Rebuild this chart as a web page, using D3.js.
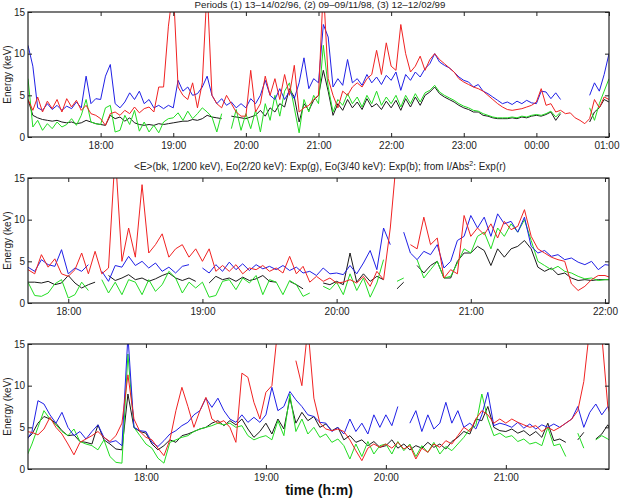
<!DOCTYPE html>
<html><head><meta charset="utf-8">
<script src="https://cdn.jsdelivr.net/npm/d3@7"></script>
<style>body{margin:0;background:#fff} svg{display:block}</style>
</head><body>
<script>
// ---------- DATA ----------
// Panel 1: samples every 4 min from 17:00 (to 01:00)
const p1Start = 17.0, p1Step = 4;
const p1Black = [4.5,2.6,2.3,2.1,2.0,1.9,2.0,1.8,1.7,1.8,1.6,1.7,2.0,1.8,1.6,
 1.5,1.4,2.6,2.2,2.4,1.9,2.3,1.7,1.5,1.4,1.5,1.4,1.6,1.5,1.6,
 1.7,1.8,1.9,1.9,2.1,2.0,2.2,2.6,2.4,2.3,2.2,null,2.5,2.4,2.3,
 2.2,2.4,2.6,3.2,2.5,3.5,3.0,4.0,3.6,5.8,4.8,1.8,4.0,3.2,4.4,
 5.0,8.0,5.5,2.6,4.0,3.2,4.5,3.5,4.2,3.3,4.6,3.6,4.0,3.3,4.3,
 3.5,4.4,3.2,4.6,3.6,4.8,3.8,5.0,5.4,6.0,5.2,4.8,4.5,4.2,3.8,
 3.5,3.3,3.0,3.0,2.6,2.5,2.3,2.2,2.2,2.2,2.3,2.2,2.4,2.3,2.5,
 2.6,2.5,2.7,3.0,2.0,2.8,null,null,null,null,null,1.8,3.0,3.5,4.5,
 4.2];
const p1Green = [7.0,1.2,2.0,0.8,1.6,1.0,1.8,1.2,1.5,2.2,1.4,2.6,4.5,1.8,1.6,
 1.5,3.5,3.8,0.6,0.8,2.6,1.5,3.2,0.7,1.8,0.6,1.4,0.5,1.8,2.2,
 2.3,2.9,2.0,3.1,2.2,2.8,3.5,3.0,2.4,0.6,2.8,null,1.0,3.3,0.8,
 2.8,1.0,3.2,0.6,4.0,2.0,5.0,2.5,5.5,6.5,3.5,0.5,4.5,3.0,5.0,
 4.0,11.0,6.0,3.0,4.5,3.8,5.2,4.0,4.8,3.6,5.0,4.0,5.5,3.8,4.8,
 4.0,5.0,3.6,5.0,4.0,5.2,4.2,5.3,5.6,6.2,5.4,5.0,4.7,4.4,4.0,
 3.7,3.5,3.2,3.1,2.8,2.6,2.4,2.3,2.3,2.3,2.4,2.3,2.5,2.4,2.6,
 2.7,2.6,2.8,3.1,2.4,3.0,null,null,null,null,null,3.5,2.0,4.0,5.5,
 7.0];
const p1Blue = [11.0,8.5,3.5,3.2,4.0,3.3,3.8,3.2,3.7,3.4,4.2,3.5,7.3,4.0,4.6,
 4.5,7.3,8.7,4.0,3.5,4.2,5.3,4.5,5.5,4.0,4.5,3.5,3.8,3.4,3.8,
 3.5,6.8,5.5,6.0,5.0,5.2,6.0,7.3,5.0,4.0,4.6,3.8,4.2,3.5,4.0,
 3.5,4.6,4.0,5.0,6.8,5.0,4.5,5.8,4.5,5.5,4.6,6.5,9.5,5.8,7.0,
 6.5,13.5,12.0,6.0,7.0,6.2,9.3,6.5,7.0,6.2,7.5,6.5,7.2,6.3,7.4,
 6.8,7.8,5.6,7.5,6.8,7.8,7.2,8.2,8.8,10.0,9.0,8.6,8.3,7.8,7.2,
 6.8,6.6,6.0,6.3,5.5,5.2,4.8,4.4,4.0,4.2,3.9,4.3,4.0,4.4,4.1,
 4.0,5.5,5.4,4.6,5.3,4.5,null,null,null,null,null,5.0,6.5,5.5,7.5,
 10.0];
const p1Red = [4.5,3.2,4.8,3.0,4.3,3.4,4.5,3.0,4.6,3.6,4.4,3.2,3.8,2.8,2.6,
 2.2,1.4,2.8,3.0,2.6,3.2,2.8,3.6,2.9,3.4,3.6,3.0,6.0,6.0,13.3,
 18,6.0,5.0,4.5,6.5,3.5,6.5,18,5.0,4.0,3.5,5.0,4.0,3.0,2.5,
 2.5,8.0,3.0,4.0,7.3,5.0,7.0,4.5,7.5,5.0,8.6,3.0,3.5,3.8,4.5,
 5.0,18,7.0,5.0,3.5,5.5,5.0,6.0,6.5,6.0,7.0,7.5,10.4,7.5,11.3,
 8.5,8.0,13.5,10.0,7.8,8.5,9.7,8.0,9.3,10.0,9.3,8.8,8.3,7.8,7.0,
 6.6,6.3,6.0,5.8,5.5,5.0,4.5,4.0,3.6,3.3,3.2,3.3,3.4,3.6,3.8,
 4.2,5.8,3.8,4.0,3.0,3.2,2.8,2.9,2.3,2.0,1.6,2.2,4.5,3.5,4.8,
 4.5];

// Panel 2: samples every 3 min from 17:42
const p2Start = 17.7, p2Step = 3;
const p2Black = [2.5,2.5,2.4,2.6,2.2,2.4,
 3.3,2.4,1.8,2.2,2.5,null,3.3,2.7,3.0,3.4,2.8,3.0,2.6,2.9,3.3,3.6,3.0,2.7,3.0,2.6,
 null,2.4,3.2,2.8,3.0,2.6,3.1,2.7,2.9,3.3,2.6,2.5,null,2.6,2.2,1.7,null,null,2.4,2.2,
 2.6,2.2,6.0,2.5,3.5,2.6,3.2,2.8,null,1.7,2.5,null,4.5,3.6,4.5,5.0,3.0,3.0,5.0,6.0,
 6.0,6.8,6.3,4.5,6.5,5.5,6.5,6.8,7.5,6.5,4.3,3.8,4.2,3.4,3.6,3.0,2.7,2.8,2.7,2.8,
 2.8,2.8];
const p2Green = [2.5,0.9,0.8,1.2,2.3,2.8,
 0.6,1.0,2.5,1.5,null,2.8,1.2,2.5,1.0,2.8,2.5,1.0,2.8,1.4,2.2,3.8,3.0,1.2,2.5,1.8,
 2.5,0.7,0.9,2.6,2.8,1.6,3.0,2.4,3.3,1.0,2.8,2.5,1.0,2.7,2.2,0.8,1.2,null,2.0,1.6,
 2.5,1.0,3.5,1.5,3.0,0.7,2.4,5.2,null,2.6,3.0,null,5.2,3.0,4.0,5.0,3.0,3.2,4.8,6.5,
 6.0,8.0,8.5,6.5,9.0,8.0,9.5,8.5,10.0,7.5,5.0,4.5,4.0,4.4,3.8,3.6,3.2,2.9,3.0,2.7,
 2.8,2.8];
const p2Blue = [4.3,3.8,5.2,4.6,4.4,6.4,
 3.5,4.2,3.8,4.6,null,3.8,2.6,4.5,4.3,5.6,4.5,5.0,4.2,4.8,3.8,4.3,3.6,4.4,4.6,null,
 4.2,3.6,4.6,3.8,4.9,4.0,4.7,3.9,4.6,4.1,4.4,4.0,4.5,3.9,4.3,3.6,3.8,3.3,4.2,3.5,
 3.6,3.4,4.5,3.5,4.8,6.3,4.0,9.0,7.0,null,8.5,6.0,5.2,6.2,5.8,7.0,4.2,5.0,7.5,8.0,
 10.5,9.0,10.3,8.0,10.7,9.5,9.8,8.5,10.3,6.8,6.0,6.3,5.6,5.8,5.2,5.4,4.9,4.6,5.0,4.0,
 4.6,4.5];
const p2Red = [4.0,3.5,5.8,4.3,5.3,3.5,
 3.2,4.0,6.0,3.5,6.2,3.5,4.2,18,5.0,9.0,5.5,14.2,6.0,7.0,8.3,5.5,6.5,7.0,5.5,6.5,
 5.0,6.5,3.8,4.5,3.8,4.6,3.5,4.2,4.0,4.5,3.8,4.2,3.6,5.6,3.5,4.4,2.5,3.2,2.6,3.0,
 2.4,2.5,2.8,2.4,3.2,2.0,3.8,2.8,9.0,18,null,7.0,6.5,10.3,7.0,7.8,3.0,4.0,3.5,10.5,
 8.0,9.0,8.2,9.5,7.8,9.8,8.8,9.2,11.2,8.0,6.5,6.0,5.5,5.2,5.0,2.3,1.5,2.0,2.8,3.3,
 3.3,3.0];

// Panel 3: samples every 3 min from 17:00
const p3Start = 17.0, p3Step = 3;
const p3Black = [3.5,4.2,5.5,6.3,6.0,5.5,4.6,4.0,4.1,3.3,3.2,3.0,5.3,3.5,3.0,2.4,2.3,9.0,5.0,4.5,
 4.3,3.0,2.3,2.8,3.5,3.2,4.0,4.2,4.5,4.8,5.0,5.5,5.8,5.2,5.8,5.3,6.0,4.8,3.8,4.5,
 5.5,4.2,6.0,4.8,8.5,5.5,6.8,5.8,6.3,5.0,5.4,4.6,5.0,3.5,4.0,3.2,3.5,2.8,3.3,2.6,
 2.8,3.5,2.5,3.0,2.3,2.8,2.5,3.2,2.6,3.0,2.4,3.3,3.8,4.5,4.2,6.0,5.8,7.5,5.0,4.6,
 4.5,4.8,4.3,4.6,4.0,4.5,3.8,5.5,3.4,3.6,3.2,null,3.5,4.4,null,3.6,4.2,5.3,4.0];
const p3Green = [1.3,3.0,5.0,7.0,6.0,5.3,4.5,4.0,4.8,3.3,3.0,2.8,2.3,3.5,1.5,0.8,0.7,13.8,5.0,4.0,
 3.0,2.5,1.3,0.7,3.2,3.5,3.8,4.0,4.5,4.8,5.0,5.2,5.5,5.3,5.5,5.0,5.2,4.0,3.5,3.8,
 4.0,3.5,5.8,4.0,9.0,4.5,6.0,4.2,5.0,3.8,4.2,3.2,3.6,2.8,1.2,3.0,1.5,3.3,1.8,2.8,
 3.0,1.8,3.3,2.2,3.0,1.5,2.8,2.0,3.2,1.8,2.7,2.2,3.0,3.8,4.8,5.2,9.0,6.0,4.0,4.3,
 3.8,4.0,3.3,3.6,3.0,3.2,2.8,5.0,2.8,3.0,1.5,null,4.3,2.5,null,3.5,4.0,3.6,3.0];
const p3Blue = [3.3,4.5,8.2,7.8,6.5,5.5,6.8,5.0,4.0,4.5,3.6,4.5,5.3,3.8,3.2,3.4,2.8,16,5.0,4.6,
 4.5,3.2,2.7,3.4,4.2,4.6,5.2,5.6,6.5,7.0,8.5,7.4,8.5,7.0,6.0,5.6,6.5,5.6,6.2,5.6,
 6.5,9.8,7.0,7.5,9.3,8.3,7.5,6.5,6.3,5.6,5.5,4.5,5.0,4.2,6.0,4.5,5.5,4.2,6.5,5.0,
 6.5,5.2,7.5,null,5.5,7.0,4.5,6.5,4.8,5.5,8.0,5.5,7.0,5.0,5.5,4.8,6.5,9.2,5.2,5.5,
 5.3,5.0,5.6,4.9,5.4,4.8,5.3,5.0,5.4,5.0,5.5,6.0,7.5,5.0,6.8,7.8,6.5,7.5,6.5];
const p3Red = [4.5,4.4,4.1,4.8,6.2,5.0,4.2,3.0,1.7,3.2,3.6,4.0,4.5,3.8,3.3,4.0,5.5,11.3,6.0,4.5,
 3.8,3.5,2.5,1.6,3.5,7.0,9.8,7.5,5.0,7.0,8.6,6.0,5.5,5.8,5.0,3.2,11.5,11.0,8.0,6.0,
 9.2,10.0,17,null,null,13.0,10.0,17,8.5,5.5,4.8,4.6,4.8,4.5,3.5,2.2,1.0,2.5,3.0,2.6,
 3.0,2.5,3.2,2.4,2.8,1.2,2.5,2.0,3.0,2.6,3.4,3.0,4.0,5.0,4.5,6.0,7.0,6.5,5.5,6.0,
 5.5,6.0,5.6,5.3,5.0,5.2,4.5,5.0,4.6,5.0,5.5,6.0,7.0,10.5,17,17,16,7.5,5.0];

const p1Ticks = [18,19,20,21,22,23,24,25];
const p2Ticks = [18,19,20,21,22];
const p3Ticks = [18,19,20,21];
const yTicks = [0,5,10,15];
const title1 = "Periods (1) 13\u201314/02/96, (2) 09\u201309/11/98, (3) 12\u201312/02/99";
const yLabel = "Energy (keV)";
const xLabel = "time (h:m)";

// ---------- DRAWING ----------
const W = 620, H = 500;
const L = 28, R = 609;
const colors = {black:"#1a1a1a", green:"#22dd22", blue:"#2020e6", red:"#f02222"};
const svg = d3.select("body").append("svg").attr("width", W).attr("height", H)
  .style("font-family", "Arial, 'Liberation Sans', Helvetica, sans-serif");

const panels = [
  {top:12, bottom:137, domain:[17.0, 25.0], ticks:p1Ticks, start:p1Start, step:p1Step,
   series:[["black",p1Black],["green",p1Green],["blue",p1Blue],["red",p1Red]]},
  {top:178, bottom:303, domain:[17.70, 22.03], ticks:p2Ticks, start:p2Start, step:p2Step,
   series:[["black",p2Black],["green",p2Green],["blue",p2Blue],["red",p2Red]]},
  {top:344, bottom:469, domain:[17.017, 21.86], ticks:p3Ticks, start:p3Start, step:p3Step,
   series:[["black",p3Black],["green",p3Green],["blue",p3Blue],["red",p3Red]]}
];

const fmt = h => String(Math.round(h) % 24).padStart(2, "0") + ":00";

panels.forEach((p, k) => {
  const x = d3.scaleLinear().domain(p.domain).range([L, R]);
  const y = d3.scaleLinear().domain([0, 15]).range([p.bottom, p.top]);
  const g = svg.append("g");
  const cid = "clip" + k;
  svg.append("clipPath").attr("id", cid).append("rect")
    .attr("x", L).attr("y", p.top).attr("width", R - L).attr("height", p.bottom - p.top);

  const plot = g.append("g").attr("clip-path", `url(#${cid})`);
  p.series.forEach(([c, vals]) => {
    const pts = vals.map((v, i) => ({t: p.start + i * p.step / 60, v}));
    const line = d3.line().defined(d => d.v !== null).x(d => x(d.t)).y(d => y(d.v));
    plot.append("path").datum(pts).attr("d", line)
      .attr("fill", "none").attr("stroke", colors[c]).attr("stroke-width", 1)
      .attr("stroke-linejoin", "round");
  });

  const ax = (gen, tr, labels) => {
    const a = g.append("g").attr("transform", tr).call(gen);
    a.select(".domain").remove();
    a.selectAll(".tick line").attr("stroke", "#222");
    a.selectAll("text").attr("fill", "#222").style("font-size", "10px");
    if (!labels) a.selectAll("text").remove();
    return a;
  };
  const bx = ax(d3.axisBottom(x).tickValues(p.ticks).tickFormat(fmt).tickSizeInner(-4).tickSizeOuter(0).tickPadding(5),
     `translate(0,${p.bottom})`, true);
  // keep a label that sits on the right edge inside the picture
  bx.selectAll(".tick").each(function(d) {
    if (x(d) > W - 14) d3.select(this).select("text").attr("text-anchor", "end").attr("dx", "10px");
  });
  ax(d3.axisTop(x).tickValues(p.ticks).tickSizeInner(-4).tickSizeOuter(0), `translate(0,${p.top})`, false);
  ax(d3.axisLeft(y).tickValues(yTicks).tickSizeInner(-4).tickSizeOuter(0).tickPadding(3),
     `translate(${L},0)`, true);
  ax(d3.axisRight(y).tickValues(yTicks).tickSizeInner(-4).tickSizeOuter(0), `translate(${R},0)`, false);

  g.append("rect").attr("x", L).attr("y", p.top).attr("width", R - L).attr("height", p.bottom - p.top)
    .attr("fill", "none").attr("stroke", "#222").attr("stroke-width", 1.2);

  g.append("text").attr("transform", `translate(11,${(p.top + p.bottom) / 2}) rotate(-90)`)
    .attr("text-anchor", "middle").style("font-size", "10px").attr("fill", "#222").text(yLabel);
});

// titles
svg.append("text").attr("x", 320).attr("y", 8).attr("text-anchor", "middle")
  .style("font-size", "9.7px").attr("fill", "#222").text(title1);

const t2 = svg.append("text").attr("x", 320).attr("y", 170).attr("text-anchor", "middle")
  .style("font-size", "10px").attr("fill", "#222");
t2.append("tspan").text("<E>(bk, 1/200 keV), Eo(2/20 keV): Exp(g), Eo(3/40 keV): Exp(b); from I/Abs");
t2.append("tspan").attr("dy", -4).style("font-size", "7px").text("2");
t2.append("tspan").attr("dy", 4).text(": Exp(r)");

svg.append("text").attr("x", 319).attr("y", 495).attr("text-anchor", "middle")
  .style("font-size", "14px").style("font-weight", "bold").attr("fill", "#111").text(xLabel);
</script>
</body></html>
